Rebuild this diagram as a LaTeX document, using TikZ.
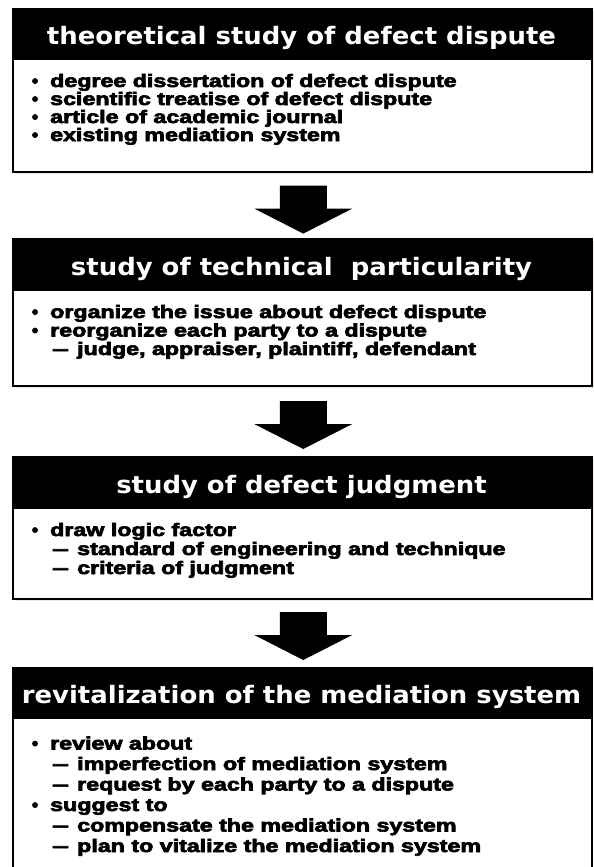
\documentclass[tikz,border=0pt]{standalone}
\usepackage{fontspec}
\setmainfont{Liberation Sans}
\newfontfamily\hdrfont{DejaVu Sans}
\newfontfamily\bodyfont{Liberation Sans}[BoldFeatures={FakeBold=3.4}]
\usetikzlibrary{calc}
\definecolor{shadowcol}{RGB}{236,233,222}
\newcommand\hsx{1.08}
\newcommand\bsx{1.29}
\tikzset{
  hdrbox/.style={draw=black, fill=black, line width=1.5pt, minimum width=579pt, minimum height=50pt, anchor=north west, inner sep=0pt},
  bodybox/.style={draw=black, fill=white, line width=1.6pt, minimum width=579pt, anchor=north west, inner sep=0pt},
  shadowbox/.style={fill=shadowcol},
  htext/.style={text=white, font=\hdrfont\bfseries\fontsize{24}{28}\selectfont, anchor=base, inner sep=0pt},
  btext/.style={font=\bodyfont\bfseries\fontsize{18}{20}\selectfont, anchor=base west, inner sep=0pt},
  blockarrow/.style={fill=black}
}
\newcommand\HT[1]{\scalebox{\hsx}[1]{#1}}
\newcommand\BT[1]{\scalebox{\bsx}[1]{#1}}
\newcommand\BU{\llap{•\hspace{12pt}}}
\newcommand\DA{\llap{\scalebox{0.85}[1]{—}\hspace{9pt}}}
\begin{document}
\begin{tikzpicture}[x=1pt,y=-1pt]
\useasboundingbox (0,0) rectangle (594,867);
\clip (0,0) rectangle (594,867);
% shadows
\fill[shadowbox] (15,11) rectangle (594,174);
\fill[shadowbox] (15,241) rectangle (594,388);
\fill[shadowbox] (15,459) rectangle (594,601);
% box 1
\node[bodybox, minimum height=113pt] (b1) at (12,58) {};
\node[hdrbox] (h1) at (12,8) {};
\node[htext] (t1) at (301.5,45) {\HT{theoretical study of defect dispute}};
\node[btext] (l11) at (50,87) {\BU\BT{degree dissertation of defect dispute}};
\node[btext] (l12) at (50,105) {\BU\BT{scientific treatise of defect dispute}};
\node[btext] (l13) at (50,123) {\BU\BT{article of academic journal}};
\node[btext] (l14) at (50,141) {\BU\BT{existing mediation system}};
% box 2
\node[bodybox, minimum height=96pt] (b2) at (12,289) {};
\node[hdrbox] (h2) at (12,238) {};
\node[htext] (t2) at (301.5,275.5) {\HT{study of technical\ \ particularity}};
\node[btext] (l21) at (50,318) {\BU\BT{organize the issue about defect dispute}};
\node[btext] (l22) at (50,336.5) {\BU\BT{reorganize each party to a dispute}};
\node[btext] (l23) at (77,355) {\DA\BT{judge, appraiser, plaintiff, defendant}};
% box 3
\node[bodybox, minimum height=91pt] (b3) at (12,507) {};
\node[hdrbox] (h3) at (12,456) {};
\node[htext] (t3) at (301.5,493.5) {\HT{study of defect judgment}};
\node[btext] (l31) at (50,536) {\BU\BT{draw logic factor}};
\node[btext] (l32) at (77,555) {\DA\BT{standard of engineering and technique}};
\node[btext] (l33) at (77,574) {\DA\BT{criteria of judgment}};
% box 4
\node[bodybox, minimum height=170pt] (b4) at (12,717) {};
\node[hdrbox] (h4) at (12,667) {};
\node[htext] (t4) at (301.5,703.5) {\HT{revitalization of the mediation system}};
\node[btext] (l41) at (50,749.5) {\BU\BT{review about}};
\node[btext] (l42) at (77,770) {\DA\BT{imperfection of mediation system}};
\node[btext] (l43) at (77,790.5) {\DA\BT{request by each party to a dispute}};
\node[btext] (l44) at (50,811) {\BU\BT{suggest to}};
\node[btext] (l45) at (77,831.5) {\DA\BT{compensate the mediation system}};
\node[btext] (l46) at (77,852) {\DA\BT{plan to vitalize the mediation system}};
% arrows
\coordinate (a1) at ($(b1.south)+(1,13)$);
\coordinate (a2) at ($(h3.north)+(1,-55)$);
\coordinate (a3) at ($(h4.north)+(1,-55)$);
\foreach \a in {a1,a2,a3}{
  \fill[blockarrow, shift={(\a)}] (-23.5,0) -- (23.5,0) -- (23.5,23) -- (49,23) -- (0,48) -- (-49,23) -- (-23.5,23) -- cycle;
}
\end{tikzpicture}
\end{document}
